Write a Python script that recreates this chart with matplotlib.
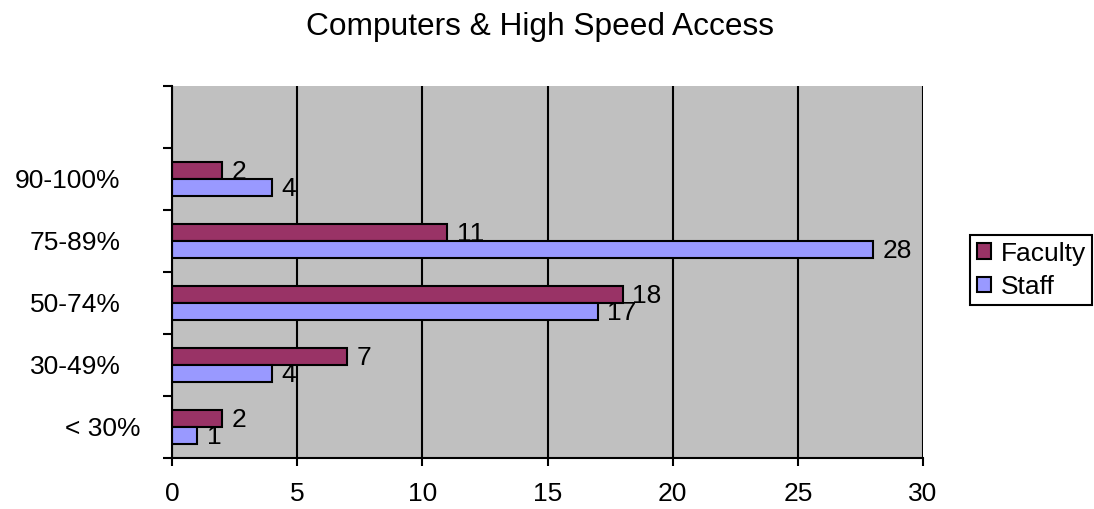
import matplotlib
matplotlib.use("Agg")
import matplotlib.pyplot as plt
import matplotlib.transforms as mtransforms
import numpy as np

plt.rcParams["font.family"] = ["Liberation Sans", "DejaVu Sans"]

# Survey responses by share of computers with high speed access
categories = ["< 30%", "30-49%", "50-74%", "75-89%", "90-100%"]
faculty = [2, 7, 18, 11, 2]
staff = [1, 4, 17, 28, 4]
series_names = ["Faculty", "Staff"]
x_ticks = [0, 5, 10, 15, 20, 25, 30]

FACULTY_COLOR = "#993366"
STAFF_COLOR = "#9999FF"
PLOT_BG = "#C0C0C0"
FS = 19

W, H = 1094, 509
fig = plt.figure(figsize=(W / 100, H / 100), dpi=100)
ax = fig.add_axes([172 / W, 1 - 458 / H, (923 - 172) / W, (458 - 86) / H])
ax.set_facecolor(PLOT_BG)

n_slots = len(categories) + 1  # one empty slot above the last category
y = np.arange(len(categories))
bar_h = 0.28

bars_f = ax.barh(y + bar_h / 2, faculty, height=bar_h, color=FACULTY_COLOR,
                 edgecolor="black", linewidth=1.5, zorder=3, label=series_names[0])
bars_s = ax.barh(y - bar_h / 2, staff, height=bar_h, color=STAFF_COLOR,
                 edgecolor="black", linewidth=1.5, zorder=3, label=series_names[1])

# value labels to the right of each bar
for bars, vals in ((bars_f, faculty), (bars_s, staff)):
    for rect, v in zip(bars, vals):
        ax.annotate(str(v), xy=(v, rect.get_y() + rect.get_height() / 2),
                    xytext=(7, -1), textcoords="offset points",
                    ha="left", va="center", fontsize=FS, zorder=5)

ax.set_xlim(x_ticks[0], x_ticks[-1])
ax.set_ylim(-0.5, n_slots - 0.5)

ax.set_xticks(x_ticks)
ax.set_xticklabels([str(t) for t in x_ticks], fontsize=FS)
ax.tick_params(axis="x", direction="out", length=6, width=1.5, pad=11)

ax.set_yticks(y)
ax.set_yticklabels(categories, fontsize=FS)
ax.tick_params(axis="y", which="major", length=0, pad=37)
ax.set_yticks(np.arange(-0.5, n_slots), minor=True)
ax.tick_params(axis="y", which="minor", direction="out", length=6.5, width=1.5)

# the shortest category label sits a little closer to the axis
lbl = ax.get_yticklabels()[0]
lbl.set_transform(lbl.get_transform() +
                  mtransforms.ScaledTranslation(20 / 100, 0, fig.dpi_scale_trans))

ax.xaxis.grid(True, color="black", linewidth=1.5, zorder=1)
ax.set_axisbelow(True)

for side in ("top", "right"):
    ax.spines[side].set_visible(False)
for side in ("left", "bottom"):
    ax.spines[side].set_linewidth(1.5)
    ax.spines[side].set_zorder(4)

fig.text(540 / W, 1 - 35 / H, "Computers & High Speed Access",
         ha="center", va="baseline", fontsize=22.8)

leg = fig.legend(loc="upper left", bbox_to_anchor=(970 / W, 1 - 235 / H),
                 fontsize=FS, frameon=True, fancybox=False, framealpha=1,
                 edgecolor="black", borderpad=0.25, labelspacing=0.35,
                 handlelength=0.55, handleheight=0.55, handletextpad=0.36,
                 borderaxespad=0)
leg.get_frame().set_linewidth(1.5)

fig.savefig("out.png", dpi=100)
